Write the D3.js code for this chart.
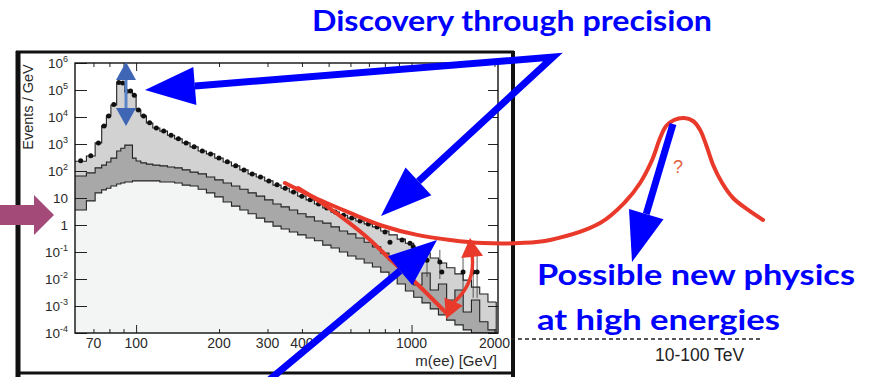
<!DOCTYPE html>
<html><head><meta charset="utf-8">
<script src="https://cdn.jsdelivr.net/npm/d3@7"></script>
<style>body{margin:0;background:#fff;} svg{display:block;}</style>
</head><body>
<svg id="c" width="871" height="377"></svg>
<script>
// ---------------- DATA ----------------
const binEdges = [60, 66, 71, 75, 78, 81, 85, 88, 91, 94, 97, 100, 104, 109, 115, 122, 130, 138, 147, 157, 168, 180, 193, 207, 222, 238, 255, 273, 293, 314, 336, 360, 386, 414, 444, 476, 510, 547, 586, 628, 673, 721, 773, 828, 887, 950, 1018, 1091, 1169, 1252, 1341, 1437, 1540, 1650, 1768, 1894, 2030];
// Events / GeV, total expectation (light grey)
const totalVals = [2.3e2, 3.6e2, 1.1e3, 4.7e3, 1.1e4, 2.8e4, 1.8e5, 1.8e5, 9.1e4, 9.1e4, 6.5e4, 1.8e4, 1.1e4, 6.0e3, 3.9e3, 3.0e3, 2.1e3, 1.55e3, 1.1e3, 780, 550, 430, 300, 215, 155, 110, 78, 60, 43, 30, 23, 16.6, 11.7, 8.5, 6.0, 4.3, 3.0, 2.3, 1.8, 1.4, 1.1, 0.85, 0.60, 0.43, 0.30, 0.21, 0.14, 0.091, 0.060, 0.039, 0.026, 0.0155, 0.0091, 0.0050, 0.0028, 0.0014];
// middle component (dark grey)
const midVals = [65, 85, 130, 165, 215, 300, 550, 700, 910, 910, 300, 235, 200, 180, 165, 155, 140, 130, 110, 91, 78, 60, 47, 36, 28, 21, 15.5, 11.7, 8.5, 6.0, 4.7, 3.6, 2.6, 2.0, 1.4, 1.17, 0.85, 0.60, 0.47, 0.33, 0.23, 0.155, 0.091, 0.050, 0.030, 0.0166, 0.0060, 0.0166, 0.0039, 0.0065, 0.00166, 0.0039, 0.0006, 0.00166, 0.00026, 0.00013];
// lowest component (near-white)
const lowVals = [3.6, 7.8, 15.5, 20, 23, 28, 33, 36, 39, 39, 43, 43, 43, 43, 43, 39, 39, 36, 30, 28, 21, 15.5, 11, 7.1, 5.0, 3.6, 2.6, 1.8, 1.3, 0.91, 0.71, 0.55, 0.43, 0.33, 0.26, 0.18, 0.14, 0.10, 0.071, 0.055, 0.039, 0.028, 0.018, 0.011, 0.0065, 0.0036, 0.0021, 0.0013, 0.00078, 0.00047, 0.0003, 0.0002, 0.00013, 0.0001, 0.0001, 0.0001];
// data points in the first 41 bins (bin centres)
const dataVals = [2.4e2, 3.7e2, 1.1e3, 4.6e3, 1.1e4, 2.9e4, 1.9e5, 1.8e5, 9.0e4, 9.2e4, 6.4e4, 1.8e4, 1.1e4, 6.1e3, 3.9e3, 3.0e3, 2.1e3, 1.55e3, 1.1e3, 790, 550, 430, 300, 220, 155, 110, 78, 60, 43, 31, 23, 16.6, 11.7, 8.6, 6.0, 4.3, 3.0, 2.3, 1.8, 1.4, 1.1];
// high-mass data points
const hiMass = [750, 801, 835, 924, 987, 1014, 1138, 1267, 1288, 1538, 1674, 1730];
const hiVals = [0.85, 0.55, 0.23, 0.28, 0.21, 0.155, 0.05, 0.043, 0.018, 0.018, 0.018, 0.018];
const hiErrLo = [0.85, 0.55, 0.23, 0.28, 0.21, 0.155, 0.012, 0.010, 0.018, 0.003, 0.002, 0.002];
const hiErrHi = [0.85, 0.55, 0.23, 0.28, 0.21, 0.155, 0.12, 0.12, 0.018, 0.06, 0.08, 0.08];
// cartoon red curves (mass GeV, Events/GeV)
const redUpperMass = [347, 465, 598, 788, 1047, 1380, 1818, 2478, 3185, 4836, 5960, 6756, 7470, 7987, 8400, 8977, 9760, 10520, 11160, 11740, 12440, 13420, 14700, 16670, 18890];
const redUpperVals = [36, 8.4, 2.8, 0.92, 0.43, 0.28, 0.215, 0.215, 0.28, 1.19, 7.1, 36, 255, 1667, 4640, 7740, 9180, 7110, 3300, 918, 167, 36, 10, 3.6, 1.53];
const redLowerMass = [387, 473, 583, 707, 849, 1030, 1346];
const redLowerVals = [23.4, 6.5, 1.4, 0.28, 0.046, 0.0077, 5.1e-4];
// tick labels
const xTickLabels = [70, 100, 200, 300, 400, 1000, 2000];
const yTickExps = [6, 5, 4, 3, 2, 1, 0, -1, -2, -3, -4];

// ---------------- LAYOUT ----------------
const svg = d3.select("#c");
const P = {l: 75, r: 498, t: 63, b: 333};
const x = d3.scaleLog().domain([60, 2060]).range([P.l, P.r]);
const y = d3.scaleLog().domain([1e-4, 1e6]).range([P.b, P.t]);
const BLUE = "#0000ff", RED = "#e8392b";
const labelFont = "'Liberation Sans', Arial, sans-serif";

// outer rough frame
const frame = svg.append("g").attr("stroke", "#111").attr("fill", "none");
frame.append("line").attr("x1", 18).attr("x2", 18).attr("y1", 51).attr("y2", 377).attr("stroke-width", 5);
frame.append("line").attr("x1", 16).attr("x2", 514).attr("y1", 52).attr("y2", 52).attr("stroke-width", 3);
frame.append("line").attr("x1", 513).attr("x2", 513).attr("y1", 51).attr("y2", 377).attr("stroke-width", 4);
frame.append("line").attr("x1", 16).attr("x2", 515).attr("y1", 373).attr("y2", 373).attr("stroke-width", 3);

// histograms
svg.append("clipPath").attr("id", "pc").append("rect")
  .attr("x", P.l).attr("y", P.t).attr("width", P.r - P.l).attr("height", P.b - P.t);
const gH = svg.append("g").attr("clip-path", "url(#pc)");
function stepPts(vals) {
  const pts = vals.map((v, i) => [binEdges[i], v]);
  pts.push([binEdges[binEdges.length - 1], vals[vals.length - 1]]);
  return pts;
}
const area = d3.area().curve(d3.curveStepAfter).x(d => x(d[0])).y0(P.b).y1(d => y(Math.max(d[1], 1e-4)));
const line = d3.line().curve(d3.curveStepAfter).x(d => x(d[0])).y(d => y(Math.max(d[1], 1e-4)));
[[totalVals, "#d2d2d2"], [midVals, "#a8a8a8"], [lowVals, "#f3f5f5"]].forEach(([vals, col]) => {
  gH.append("path").attr("d", area(stepPts(vals))).attr("fill", col);
});
[totalVals, midVals, lowVals].forEach(vals => {
  gH.append("path").attr("d", line(stepPts(vals))).attr("fill", "none").attr("stroke", "#222").attr("stroke-width", 1.1);
});
gH.append("line").attr("x1", x(binEdges[binEdges.length - 1])).attr("x2", x(binEdges[binEdges.length - 1]))
  .attr("y1", y(totalVals[totalVals.length - 1])).attr("y2", P.b).attr("stroke", "#222").attr("stroke-width", 1.1);

// data points
const centers = dataVals.map((v, i) => Math.sqrt(binEdges[i] * binEdges[i + 1]));
gH.selectAll("circle.d").data(dataVals).join("circle").attr("class", "d")
  .attr("cx", (d, i) => x(centers[i])).attr("cy", d => y(d)).attr("r", 2.5).attr("fill", "#111");
gH.selectAll("line.e").data(hiMass).join("line").attr("class", "e")
  .attr("x1", d => x(d)).attr("x2", d => x(d))
  .attr("y1", (d, i) => y(hiErrLo[i])).attr("y2", (d, i) => y(hiErrHi[i]))
  .attr("stroke", "#333").attr("stroke-width", 0.8);
gH.selectAll("circle.h").data(hiMass).join("circle").attr("class", "h")
  .attr("cx", d => x(d)).attr("cy", (d, i) => y(hiVals[i])).attr("r", 2.5).attr("fill", "#111");

// axes (ticks inside)
const yAll = y.ticks();
const yMaj = yTickExps.map(e => Math.pow(10, e));
const yMin = yAll.filter(v => !yMaj.some(m => Math.abs(Math.log10(v) - Math.log10(m)) < 1e-6));
function styleAxis(g) { g.select(".domain").remove(); g.selectAll("text").remove(); g.selectAll("line").attr("stroke", "#222").attr("stroke-width", 1); }
svg.append("g").attr("transform", `translate(${P.l},0)`).call(d3.axisLeft(y).tickValues(yMaj).tickSize(-12)).call(styleAxis);
svg.append("g").attr("transform", `translate(${P.l},0)`).call(d3.axisLeft(y).tickValues(yMin).tickSize(-6)).call(styleAxis);
svg.append("g").attr("transform", `translate(${P.r},0)`).call(d3.axisRight(y).tickValues(yMaj).tickSize(-10)).call(styleAxis);
svg.append("g").attr("transform", `translate(${P.r},0)`).call(d3.axisRight(y).tickValues(yMin).tickSize(-6)).call(styleAxis);
const xAll = x.ticks();
const xMaj = [100, 1000];
const xMin = xAll.filter(v => !xMaj.includes(v) && v > 60);
svg.append("g").attr("transform", `translate(0,${P.b})`).call(d3.axisBottom(x).tickValues(xMaj).tickSize(-8)).call(styleAxis);
svg.append("g").attr("transform", `translate(0,${P.b})`).call(d3.axisBottom(x).tickValues(xMin).tickSize(-4)).call(styleAxis);
svg.append("g").attr("transform", `translate(0,${P.t})`).call(d3.axisTop(x).tickValues(xMaj).tickSize(-8)).call(styleAxis);
svg.append("g").attr("transform", `translate(0,${P.t})`).call(d3.axisTop(x).tickValues(xMin).tickSize(-4)).call(styleAxis);
svg.append("rect").attr("x", P.l).attr("y", P.t).attr("width", P.r - P.l).attr("height", P.b - P.t)
  .attr("fill", "none").attr("stroke", "#111").attr("stroke-width", 1.4);

// y tick labels
const yl = svg.append("g").attr("font-family", labelFont).attr("fill", "#2a2a2a");
yTickExps.forEach(e => {
  const t = yl.append("text").attr("x", 68).attr("y", y(Math.pow(10, e)) + 5).attr("text-anchor", "end").attr("font-size", 13.5);
  if (e === 0) t.text("1");
  else if (e === 1) t.text("10");
  else { t.append("tspan").text("10"); t.append("tspan").attr("dy", -6).attr("font-size", 9).text(String(e)); }
});
// x tick labels
svg.append("g").attr("font-family", labelFont).attr("fill", "#2a2a2a").selectAll("text").data(xTickLabels).join("text")
  .attr("x", d => x(d)).attr("y", 348).attr("text-anchor", "middle").attr("font-size", 14).text(d => d);
svg.append("text").attr("x", 497).attr("y", 366).attr("text-anchor", "end").attr("font-family", labelFont)
  .attr("font-size", 15).attr("fill", "#2a2a2a").text("m(ee) [GeV]");
svg.append("text").attr("transform", "translate(33,107) rotate(-90)").attr("text-anchor", "middle")
  .attr("font-family", labelFont).attr("font-size", 14.5).attr("fill", "#2a2a2a").text("Events / GeV");

// dashed extension + TeV label
svg.append("line").attr("x1", 511).attr("x2", 763).attr("y1", 339).attr("y2", 339)
  .attr("stroke", "#222").attr("stroke-width", 1.3).attr("stroke-dasharray", "4,3");
svg.append("text").attr("x", 655).attr("y", 361).attr("font-family", labelFont).attr("font-size", 17.5)
  .attr("fill", "#222").text("10-100 TeV");

// red cartoon curves
const rl = d3.line().curve(d3.curveCatmullRom.alpha(0.5)).x(d => x(d[0])).y(d => y(d[1]));
svg.append("path").attr("d", rl(redUpperMass.map((m, i) => [m, redUpperVals[i]])))
  .attr("fill", "none").attr("stroke", RED).attr("stroke-width", 4).attr("stroke-linecap", "round");
svg.append("path").attr("d", rl(redLowerMass.map((m, i) => [m, redLowerVals[i]])))
  .attr("fill", "none").attr("stroke", RED).attr("stroke-width", 4).attr("stroke-linecap", "round");
// red double arrow
function head(g, tip, dir, L, W, col) {
  const n = Math.hypot(dir[0], dir[1]); const ux = dir[0] / n, uy = dir[1] / n;
  const bx = tip[0] - ux * L, by = tip[1] - uy * L;
  g.append("path").attr("d", `M${tip[0]},${tip[1]}L${bx - uy * W},${by + ux * W}L${bx + uy * W},${by - ux * W}Z`).attr("fill", col);
  return [bx, by];
}
const ra = svg.append("g");
ra.append("path").attr("d", "M472,254 Q476,284 452,304").attr("fill", "none").attr("stroke", RED).attr("stroke-width", 3.4);
head(ra, [470, 238], [-2, -18], 19, 11, RED);
head(ra, [446, 319], [-7, 16], 19, 10, RED);
svg.append("text").attr("x", 678).attr("y", 173).attr("text-anchor", "middle").attr("font-family", labelFont)
  .attr("font-size", 18).attr("fill", "#e0603a").text("?");

// blue double arrow at the Z peak
const ba = svg.append("g");
ba.append("line").attr("x1", 126).attr("x2", 126).attr("y1", 78).attr("y2", 110).attr("stroke", "#5b84c8").attr("stroke-width", 3);
head(ba, [126, 62], [0, -1], 18, 10, "#3f66b5");
head(ba, [126, 126], [0, 1], 18, 10, "#3f66b5");

// blue arrows
const bl = svg.append("g");
function arrow(from, tip, L, W) {
  const b = head(bl, tip, [tip[0] - from[0], tip[1] - from[1]], L, W, BLUE);
  bl.append("line").attr("x1", from[0]).attr("y1", from[1]).attr("x2", b[0]).attr("y2", b[1])
    .attr("stroke", BLUE).attr("stroke-width", 7);
  return b;
}
const vtx = [553, 57];
const b1 = head(bl, [145, 90], [145 - vtx[0], 90 - vtx[1]], 50, 19, BLUE);
const b2 = head(bl, [381, 216], [381 - vtx[0], 216 - vtx[1]], 51, 19, BLUE);
bl.append("path").attr("d", `M${b1[0]},${b1[1]}L${vtx[0]},${vtx[1]}L${b2[0]},${b2[1]}`)
  .attr("fill", "none").attr("stroke", BLUE).attr("stroke-width", 7).attr("stroke-linejoin", "miter");
arrow([262, 386], [437, 240], 48, 19);
arrow([673, 124], [632, 262], 50, 18);

// purple block arrow
svg.append("path").attr("d", "M0,205L34,205L34,195L54,215L34,235L34,225L0,225Z").attr("fill", "#a34a78");

// blue annotations
const tf = "Lato, 'Open Sans', sans-serif";
function bt(txt, xx, yy, w) {
  svg.append("text").attr("x", xx).attr("y", yy).attr("font-family", tf).attr("font-weight", 700)
    .attr("font-size", 29).attr("fill", BLUE).attr("textLength", w).attr("lengthAdjust", "spacingAndGlyphs").text(txt);
}
bt("Discovery through precision", 312, 31, 400);
bt("Possible new physics", 537, 285, 318);
bt("at high energies", 537, 330, 243);
</script>
</body></html>
